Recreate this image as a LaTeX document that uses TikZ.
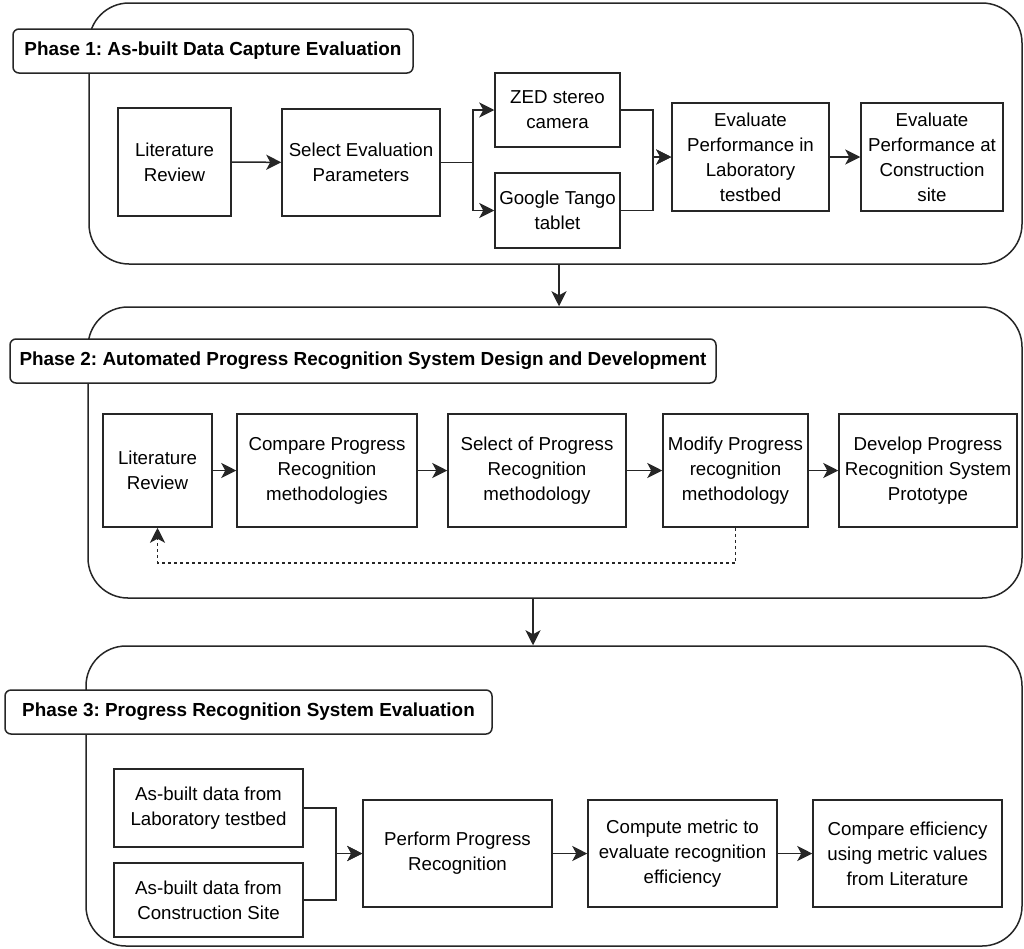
\documentclass[tikz,border=0pt]{standalone}
\usepackage{fontspec}
\setmainfont{Liberation Sans}
\usetikzlibrary{arrows.meta, positioning}

\begin{document}
\frenchspacing
\begin{tikzpicture}[x=1pt, y=-1pt,
    box/.style={rectangle, draw=black!85, line width=1.5pt, align=center,
      fill=white, inner sep=2pt,
      font=\fontsize{18.7}{25}\selectfont,
      execute at begin node={\rule{0pt}{20pt}}},
    phase/.style={rectangle, draw=black!85, line width=1.5pt, rounded corners=40pt,
      fill=white, inner sep=0pt},
    title/.style={rectangle, draw=black!85, line width=1.5pt, rounded corners=6pt,
      fill=white, inner sep=0pt, minimum height=44pt,
      font=\fontsize{18.9}{25}\selectfont\bfseries},
    arr/.style={line width=1.5pt, draw=black!85,
      -{Stealth[length=15pt, width=15pt, inset=4pt]}}
  ]
    \useasboundingbox (0,0) rectangle (1024,948);

    \node[phase, minimum width=933pt, minimum height=261pt] (phaseone) at (555.5,133.5) {};
    \node[phase, minimum width=934pt, minimum height=291pt] (phasetwo) at (555,452.5) {};
    \node[phase, minimum width=936pt, minimum height=300pt] (phasethree) at (554,796) {};

    \node[title, minimum width=400pt] (titleone) at (213,51) {Phase 1: As-built Data Capture Evaluation};
    \node[title, minimum width=706pt] (titletwo) at (363,361) {Phase 2: Automated Progress Recognition System Design and Development};
    \node[title, minimum width=487pt] (titlethree) at (248.5,712) {Phase 3: Progress Recognition System Evaluation};

    \node[box, minimum width=113pt, minimum height=108pt] (litone) at (174.5,162) {Literature\\Review};
    \node[box, minimum width=158pt, minimum height=107pt] (selpar) at (361,162.5) {Select Evaluation\\Parameters};
    \node[box, minimum width=125pt, minimum height=74pt] (zed) at (557.5,110) {ZED stereo\\camera};
    \node[box, minimum width=125pt, minimum height=75pt] (tango) at (557.5,210.5) {Google Tango\\tablet};
    \node[box, minimum width=157pt, minimum height=108pt] (evallab) at (750.5,157) {Evaluate\\Performance in\\Laboratory\\testbed};
    \node[box, minimum width=142pt, minimum height=108pt] (evalsite) at (932,157) {Evaluate\\Performance at\\Construction\\site};

    \node[box, minimum width=109pt, minimum height=113pt] (littwo) at (157.5,470.5) {Literature\\Review};
    \node[box, minimum width=180pt, minimum height=113pt] (compare) at (327,470.5) {Compare Progress\\Recognition\\methodologies};
    \node[box, minimum width=178pt, minimum height=113pt] (selmeth) at (537,470.5) {Select of Progress\\Recognition\\methodology};
    \node[box, minimum width=145pt, minimum height=113pt] (modify) at (735.5,470.5) {Modify Progress\\recognition\\methodology};
    \node[box, minimum width=178pt, minimum height=113pt] (develop) at (928,470.5) {Develop Progress\\Recognition System\\Prototype};

    \node[box, minimum width=189pt, minimum height=78pt] (labdata) at (208.5,808) {As-built data from\\Laboratory testbed};
    \node[box, minimum width=189pt, minimum height=74pt] (sitedata) at (208.5,900) {As-built data from\\Construction Site};
    \node[box, minimum width=189pt, minimum height=107pt] (perform) at (457.5,853.5) {Perform Progress\\Recognition};
    \node[box, minimum width=189pt, minimum height=107pt] (compute) at (682.5,853.5) {Compute metric to\\evaluate recognition\\efficiency};
    \node[box, minimum width=189pt, minimum height=107pt] (compeff) at (907.5,853.5) {Compare efficiency\\using metric values\\from Literature};

    \draw[arr] (litone) -- (selpar);
    \draw[arr] (selpar.east) -- ++(32,0) |- (zed.west);
    \draw[arr] (selpar.east) -- ++(32,0) |- (tango.west);
    \draw[arr] (zed.east) -- ++(32,0) |- (evallab.west);
    \draw[arr] (tango.east) -- ++(32,0) |- (evallab.west);
    \draw[arr] (evallab) -- (evalsite);

    \draw[arr] (littwo) -- (compare);
    \draw[arr] (compare) -- (selmeth);
    \draw[arr] (selmeth) -- (modify);
    \draw[arr] (modify) -- (develop);
    \draw[arr, dashed] (modify.south) -- ++(0,35) -| (littwo.south);

    \draw[arr] (labdata.east) -- ++(32,0) |- (perform.west);
    \draw[arr] (sitedata.east) -- ++(32,0) |- (perform.west);
    \draw[arr] (perform) -- (compute);
    \draw[arr] (compute) -- (compeff);

    \draw[arr] ([xshift=3.5pt]phaseone.south) -- ([xshift=4pt]phasetwo.north);
    \draw[arr] ([xshift=-22pt]phasetwo.south) -- ([xshift=-21pt]phasethree.north);
  \end{tikzpicture}
\end{document}
